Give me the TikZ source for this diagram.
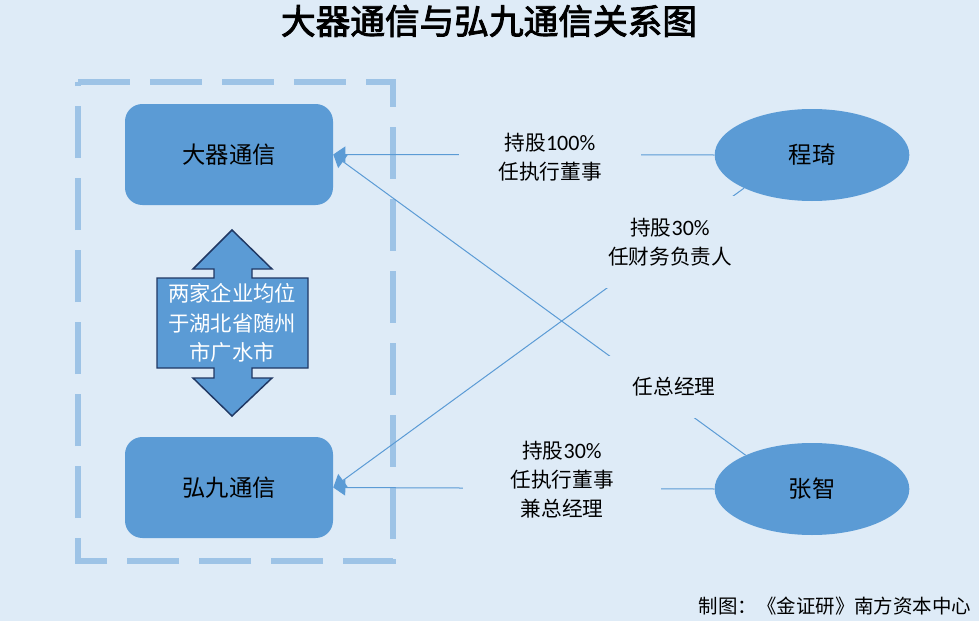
\documentclass[tikz,border=0pt]{standalone}
\usepackage{fontspec}
\setmainfont{Noto Sans CJK SC}
\newfontfamily\lat{Carlito}
\newfontfamily\titlefont{Noto Sans CJK SC}[FakeBold=2.5]
\usepackage{tikz}
\usetikzlibrary{positioning,arrows.meta,shapes.geometric}
\definecolor{bg}{HTML}{DEEBF7}
\definecolor{boxblue}{HTML}{5B9BD5}
\definecolor{frameblue}{HTML}{9DC3E6}
\definecolor{navy}{HTML}{203864}
\tikzset{
  company/.style={fill=boxblue, rounded corners=13pt, inner sep=0pt, minimum width=156pt, minimum height=75.75pt, font=\fontsize{17.5}{20}\selectfont},
  person/.style={ellipse, fill=boxblue, inner sep=0pt, minimum width=146pt, minimum height=69pt, font=\fontsize{17.5}{20}\selectfont},
  link/.style={boxblue, line width=0.75pt, -{Triangle[length=9pt,width=12pt]}},
  tag/.style={fill=bg, align=center, inner sep=0pt, font=\fontsize{15.5}{21.75}\selectfont}
}

\begin{document}
\begin{tikzpicture}[x=0.75pt,y=-0.75pt]
\fill[bg] (0,0) rectangle (979,621);
\useasboundingbox (0,0) rectangle (979,621);
\node[font=\fontsize{26}{30}\selectfont\titlefont] (title) at (489,21) {大器通信与弘九通信关系图};
\draw[frameblue, line width=4.5pt, dash pattern=on 39pt off 15pt] (78,82) -- (393,82) -- (393,561) -- (78,561) -- cycle;
\node[company] (daqi) at (229,154.5) {大器通信};
\node[company] (hongjiu) at (229,487.5) {弘九通信};
\node[person] (chengqi) at (812,155) {程琦};
\node[person] (zhangzhi) at (812,489) {张智};
% double arrow between the two companies
\draw[fill=boxblue, draw=navy, line width=1.1pt] (232,230) -- (272,269) -- (252,269) -- (252,278) -- (308,278) -- (308,368) -- (252,368) -- (252,378) -- (272,378) -- (232,416) -- (193,378) -- (214,378) -- (214,368) -- (157,368) -- (157,278) -- (214,278) -- (214,269) -- (193,269) -- cycle;
\node[align=center, text=white, font=\fontsize{16}{22}\selectfont] (note) at (232,323) {两家企业均位\\于湖北省随州\\市广水市};
\draw[link] (chengqi.west) -- (daqi.east);
\draw[link] (chengqi.206) -- (hongjiu.east);
\draw[link] (zhangzhi.153) -- (daqi.east);
\draw[link] (zhangzhi.west) -- (hongjiu.east);
\node[tag, minimum width=136.5pt, inner ysep=4pt] (label_a) at (550,157) {持股{\lat\fontsize{16.5}{21.75}\selectfont 100\%}\\任执行董事};
\node[tag, minimum width=97.5pt, minimum height=69pt] (label_b) at (670,242) {持股{\lat\fontsize{16.5}{21.75}\selectfont 30\%}\\任财务负责人};
\node[tag, minimum width=105pt, minimum height=47pt] (label_c) at (674,387) {任总经理};
\node[tag, minimum width=148pt, inner ysep=4pt] (label_d) at (562,480) {持股{\lat\fontsize{16.5}{21.75}\selectfont 30\%}\\任执行董事\\兼总经理};
\node[anchor=east, font=\fontsize{14.6}{17}\selectfont] (source) at (976,606) {制图：《金证研》南方资本中心};
\end{tikzpicture}
\end{document}
